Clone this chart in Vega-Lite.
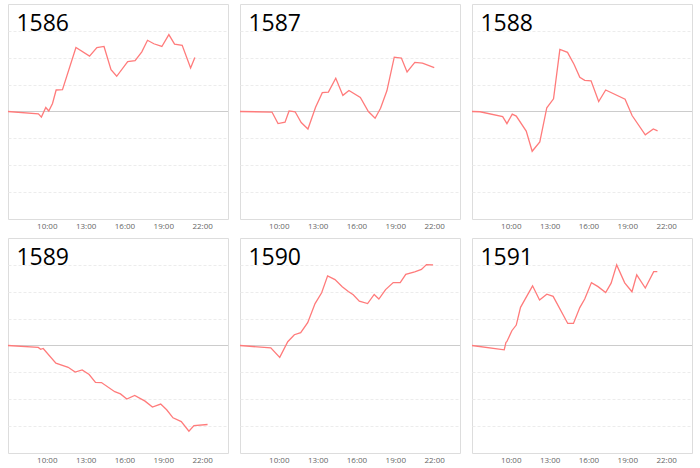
{
  "$schema": "https://vega.github.io/schema/vega-lite/v6.json",
  "padding": {"left": 4, "top": 2, "right": 0, "bottom": 0},
  "data": {
    "values": [
      {"id": "1586", "t": 7.00, "v": 0},
      {"id": "1586", "t": 9.35, "v": -0.09},
      {"id": "1586", "t": 9.58, "v": -0.21},
      {"id": "1586", "t": 9.92, "v": 0.15},
      {"id": "1586", "t": 10.15, "v": 0.02},
      {"id": "1586", "t": 10.44, "v": 0.30},
      {"id": "1586", "t": 10.72, "v": 0.80},
      {"id": "1586", "t": 11.21, "v": 0.81},
      {"id": "1586", "t": 12.25, "v": 2.38},
      {"id": "1586", "t": 13.30, "v": 2.06},
      {"id": "1586", "t": 13.87, "v": 2.38},
      {"id": "1586", "t": 14.42, "v": 2.42},
      {"id": "1586", "t": 14.96, "v": 1.56},
      {"id": "1586", "t": 15.40, "v": 1.31},
      {"id": "1586", "t": 16.25, "v": 1.86},
      {"id": "1586", "t": 16.82, "v": 1.89},
      {"id": "1586", "t": 17.34, "v": 2.22},
      {"id": "1586", "t": 17.78, "v": 2.65},
      {"id": "1586", "t": 18.27, "v": 2.52},
      {"id": "1586", "t": 18.89, "v": 2.42},
      {"id": "1586", "t": 19.43, "v": 2.86},
      {"id": "1586", "t": 19.87, "v": 2.51},
      {"id": "1586", "t": 20.46, "v": 2.46},
      {"id": "1586", "t": 21.11, "v": 1.62},
      {"id": "1586", "t": 21.44, "v": 2.01},

      {"id": "1587", "t": 7.00, "v": 0},
      {"id": "1587", "t": 9.47, "v": -0.02},
      {"id": "1587", "t": 9.94, "v": -0.45},
      {"id": "1587", "t": 10.48, "v": -0.40},
      {"id": "1587", "t": 10.79, "v": 0.02},
      {"id": "1587", "t": 11.26, "v": -0.01},
      {"id": "1587", "t": 11.73, "v": -0.41},
      {"id": "1587", "t": 12.25, "v": -0.65},
      {"id": "1587", "t": 12.84, "v": 0.16},
      {"id": "1587", "t": 13.36, "v": 0.70},
      {"id": "1587", "t": 13.83, "v": 0.72},
      {"id": "1587", "t": 14.40, "v": 1.24},
      {"id": "1587", "t": 14.95, "v": 0.60},
      {"id": "1587", "t": 15.42, "v": 0.78},
      {"id": "1587", "t": 16.30, "v": 0.52},
      {"id": "1587", "t": 16.92, "v": 0},
      {"id": "1587", "t": 17.44, "v": -0.25},
      {"id": "1587", "t": 17.86, "v": 0.12},
      {"id": "1587", "t": 18.35, "v": 0.77},
      {"id": "1587", "t": 18.92, "v": 2.02},
      {"id": "1587", "t": 19.47, "v": 1.99},
      {"id": "1587", "t": 19.91, "v": 1.47},
      {"id": "1587", "t": 20.51, "v": 1.83},
      {"id": "1587", "t": 21.10, "v": 1.80},
      {"id": "1587", "t": 22.01, "v": 1.63},

      {"id": "1588", "t": 7.00, "v": 0},
      {"id": "1588", "t": 7.62, "v": -0.01},
      {"id": "1588", "t": 9.37, "v": -0.19},
      {"id": "1588", "t": 9.70, "v": -0.45},
      {"id": "1588", "t": 10.11, "v": -0.10},
      {"id": "1588", "t": 10.42, "v": -0.17},
      {"id": "1588", "t": 11.19, "v": -0.73},
      {"id": "1588", "t": 11.65, "v": -1.48},
      {"id": "1588", "t": 12.24, "v": -1.13},
      {"id": "1588", "t": 12.78, "v": 0.14},
      {"id": "1588", "t": 13.30, "v": 0.47},
      {"id": "1588", "t": 13.79, "v": 2.31},
      {"id": "1588", "t": 14.38, "v": 2.20},
      {"id": "1588", "t": 14.89, "v": 1.75},
      {"id": "1588", "t": 15.33, "v": 1.27},
      {"id": "1588", "t": 15.71, "v": 1.16},
      {"id": "1588", "t": 16.20, "v": 1.14},
      {"id": "1588", "t": 16.79, "v": 0.37},
      {"id": "1588", "t": 17.33, "v": 0.80},
      {"id": "1588", "t": 18.83, "v": 0.46},
      {"id": "1588", "t": 19.37, "v": -0.15},
      {"id": "1588", "t": 20.39, "v": -0.87},
      {"id": "1588", "t": 21.01, "v": -0.65},
      {"id": "1588", "t": 21.34, "v": -0.72},

      {"id": "1589", "t": 7.00, "v": 0},
      {"id": "1589", "t": 9.34, "v": -0.07},
      {"id": "1589", "t": 9.52, "v": -0.14},
      {"id": "1589", "t": 9.72, "v": -0.11},
      {"id": "1589", "t": 10.70, "v": -0.66},
      {"id": "1589", "t": 11.65, "v": -0.81},
      {"id": "1589", "t": 12.19, "v": -0.99},
      {"id": "1589", "t": 12.73, "v": -0.91},
      {"id": "1589", "t": 13.27, "v": -1.08},
      {"id": "1589", "t": 13.76, "v": -1.37},
      {"id": "1589", "t": 14.22, "v": -1.38},
      {"id": "1589", "t": 15.25, "v": -1.72},
      {"id": "1589", "t": 15.69, "v": -1.80},
      {"id": "1589", "t": 16.18, "v": -1.99},
      {"id": "1589", "t": 16.79, "v": -1.86},
      {"id": "1589", "t": 17.59, "v": -2.07},
      {"id": "1589", "t": 18.16, "v": -2.29},
      {"id": "1589", "t": 18.80, "v": -2.18},
      {"id": "1589", "t": 19.26, "v": -2.39},
      {"id": "1589", "t": 19.75, "v": -2.69},
      {"id": "1589", "t": 20.39, "v": -2.83},
      {"id": "1589", "t": 20.98, "v": -3.19},
      {"id": "1589", "t": 21.37, "v": -2.98},
      {"id": "1589", "t": 22.42, "v": -2.94},

      {"id": "1590", "t": 7.00, "v": 0},
      {"id": "1590", "t": 9.38, "v": -0.09},
      {"id": "1590", "t": 10.07, "v": -0.44},
      {"id": "1590", "t": 10.69, "v": 0.14},
      {"id": "1590", "t": 11.20, "v": 0.40},
      {"id": "1590", "t": 11.69, "v": 0.48},
      {"id": "1590", "t": 12.23, "v": 0.85},
      {"id": "1590", "t": 12.80, "v": 1.56},
      {"id": "1590", "t": 13.31, "v": 1.96},
      {"id": "1590", "t": 13.77, "v": 2.59},
      {"id": "1590", "t": 14.34, "v": 2.45},
      {"id": "1590", "t": 14.90, "v": 2.19},
      {"id": "1590", "t": 15.37, "v": 2.01},
      {"id": "1590", "t": 15.75, "v": 1.89},
      {"id": "1590", "t": 16.22, "v": 1.65},
      {"id": "1590", "t": 16.86, "v": 1.56},
      {"id": "1590", "t": 17.37, "v": 1.90},
      {"id": "1590", "t": 17.73, "v": 1.73},
      {"id": "1590", "t": 18.25, "v": 2.08},
      {"id": "1590", "t": 18.84, "v": 2.34},
      {"id": "1590", "t": 19.38, "v": 2.34},
      {"id": "1590", "t": 19.81, "v": 2.65},
      {"id": "1590", "t": 20.50, "v": 2.74},
      {"id": "1590", "t": 21.02, "v": 2.83},
      {"id": "1590", "t": 21.41, "v": 3.01},
      {"id": "1590", "t": 21.92, "v": 3.00},

      {"id": "1591", "t": 7.00, "v": 0},
      {"id": "1591", "t": 9.49, "v": -0.16},
      {"id": "1591", "t": 9.62, "v": 0.11},
      {"id": "1591", "t": 9.70, "v": 0.15},
      {"id": "1591", "t": 10.08, "v": 0.55},
      {"id": "1591", "t": 10.42, "v": 0.76},
      {"id": "1591", "t": 10.75, "v": 1.42},
      {"id": "1591", "t": 11.68, "v": 2.22},
      {"id": "1591", "t": 12.22, "v": 1.69},
      {"id": "1591", "t": 12.78, "v": 1.91},
      {"id": "1591", "t": 13.27, "v": 1.83},
      {"id": "1591", "t": 14.40, "v": 0.82},
      {"id": "1591", "t": 14.84, "v": 0.82},
      {"id": "1591", "t": 15.33, "v": 1.41},
      {"id": "1591", "t": 15.71, "v": 1.73},
      {"id": "1591", "t": 16.23, "v": 2.34},
      {"id": "1591", "t": 16.74, "v": 2.19},
      {"id": "1591", "t": 17.33, "v": 1.97},
      {"id": "1591", "t": 17.75, "v": 2.32},
      {"id": "1591", "t": 18.18, "v": 3.00},
      {"id": "1591", "t": 18.80, "v": 2.33},
      {"id": "1591", "t": 19.36, "v": 2.00},
      {"id": "1591", "t": 19.73, "v": 2.63},
      {"id": "1591", "t": 20.39, "v": 2.14},
      {"id": "1591", "t": 21.04, "v": 2.75},
      {"id": "1591", "t": 21.32, "v": 2.75}
    ]
  },
  "facet": {"field": "id", "type": "nominal", "title": null, "header": {"labelExpr": "''", "labelFontSize": 1, "labelPadding": 0, "title": null}},
  "columns": 3,
  "spacing": {"column": 6, "row": 5},
  "resolve": {"axis": {"x": "independent"}},
  "spec": {
    "width": 220,
    "height": 215,
    "encoding": {
      "x": {
        "field": "t",
        "type": "quantitative",
        "scale": {"domain": [7, 24], "nice": false, "zero": false},
        "axis": {
          "title": null,
          "values": [10, 13, 16, 19, 22],
          "labelExpr": "datum.value + ':00'",
          "labelFont": "Open Sans",
          "labelFontSize": 8,
          "labelColor": "#666",
          "labelPadding": 3,
          "ticks": false,
          "domain": false,
          "grid": false
        }
      },
      "y": {
        "field": "v",
        "type": "quantitative",
        "scale": {"domain": [-4, 4], "nice": false},
        "axis": {
          "title": null,
          "values": [-3, -2, -1, 1, 2, 3],
          "labels": false,
          "ticks": false,
          "domain": false,
          "minExtent": 0,
          "maxExtent": 0,
          "grid": true,
          "gridColor": "#ececec",
          "gridDash": [3, 2]
        }
      }
    },
    "layer": [
      {
        "mark": {"type": "rule", "color": "#cccccc", "strokeWidth": 1.2},
        "encoding": {"y": {"datum": 0}, "x": null}
      },
      {
        "mark": {"type": "line", "color": "#ff7b7b", "strokeWidth": 1.3},
        "encoding": {"order": {"field": "t"}}
      },
      {
        "transform": [{"filter": "datum.t == 7"}],
        "mark": {"type": "text", "align": "left", "baseline": "alphabetic", "font": "Open Sans", "fontSize": 23, "color": "black"},
        "encoding": {
          "text": {"field": "id", "type": "nominal"},
          "x": {"datum": 7.65},
          "y": {"datum": 3.0}
        }
      }
    ]
  },
  "config": {
    "view": {"stroke": "#dddddd"}
  }
}
